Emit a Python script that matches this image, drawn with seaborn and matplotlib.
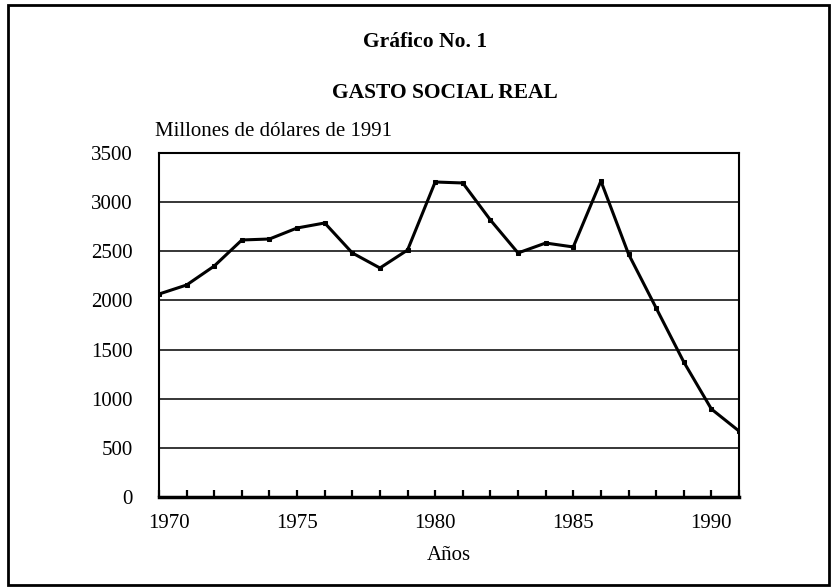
import numpy as np
import pandas as pd
import matplotlib
matplotlib.use("Agg")
import matplotlib.pyplot as plt
import seaborn as sns
from matplotlib.patches import Rectangle
from matplotlib.ticker import FixedLocator
import matplotlib.transforms as mtransforms

years = list(range(1970, 1992))
gasto = [2065, 2157, 2350, 2615, 2625, 2737, 2788, 2483, 2330, 2513, 3205,
         3195, 2818, 2483, 2584, 2544, 3215, 2472, 1923, 1374, 895, 671]
y_ticks = [0, 500, 1000, 1500, 2000, 2500, 3000, 3500]
x_ticks = [1970, 1975, 1980, 1985, 1990]

title1 = "Gráfico No. 1"
title2 = "GASTO SOCIAL REAL"
units = "Millones de dólares de 1991"
xlabel = "Años"

sns.set_style("white")
plt.rcParams['font.family'] = ['Liberation Serif', 'DejaVu Serif']
plt.rcParams['text.color'] = 'black'
plt.rcParams['xtick.color'] = 'black'
plt.rcParams['ytick.color'] = 'black'
plt.rcParams['xtick.labelcolor'] = 'black'
plt.rcParams['ytick.labelcolor'] = 'black'

W, H = 832, 588
fig = plt.figure(figsize=(W / 100, H / 100), dpi=100)
fig.patch.set_facecolor("white")

def fx(px):
    return px / W

def fy(py):
    return 1 - py / H

ax = fig.add_axes([fx(159), fy(497), fx(739) - fx(159), fy(153) - fy(497)])

df = pd.DataFrame({"year": years, "gasto": gasto})
sns.lineplot(data=df, x="year", y="gasto", ax=ax, color="black", linewidth=2.2,
             marker="s", markersize=3.5, markeredgecolor="black", zorder=3)

ax.set_xlim(1970, 1991)
ax.set_ylim(0, 3500)
ax.set_yticks(y_ticks)
ax.set_yticklabels([str(v) for v in y_ticks])
ax.set_xticks(x_ticks)
ax.set_xticklabels([str(v) for v in x_ticks])
ax.xaxis.set_minor_locator(FixedLocator(years))

for v in y_ticks[1:-1]:
    ax.axhline(v, color="black", linewidth=1.1, zorder=1)

ax.tick_params(axis="y", left=False, length=0, pad=19, labelsize=15,
               colors="black", labelcolor="black")
ax.tick_params(axis="x", which="both", bottom=True, direction="in", length=5,
               width=1.6, pad=12, labelsize=15, colors="black", labelcolor="black")

for side in ["top", "left", "right"]:
    ax.spines[side].set_visible(True)
    ax.spines[side].set_color("black")
    ax.spines[side].set_linewidth(1.5)
ax.spines["bottom"].set_visible(True)
ax.spines["bottom"].set_color("black")
ax.spines["bottom"].set_linewidth(2.5)

ax.set_xlabel("")
ax.set_ylabel("")

# shift the first x label slightly right, as in the reference
lbl = ax.get_xticklabels()[0]
lbl.set_transform(lbl.get_transform() + mtransforms.ScaledTranslation(10 / 100, 0, fig.dpi_scale_trans))

fig.text(fx(425), fy(42), title1, ha="center", va="center", fontsize=15.5,
         fontweight="bold", color="black")
fig.text(fx(445), fy(93), title2, ha="center", va="center", fontsize=15.5,
         fontweight="bold", color="black")
fig.text(fx(155), fy(131), units, ha="left", va="center", fontsize=15, color="black")
fig.text(fx(449), fy(555), xlabel, ha="center", va="center", fontsize=15, color="black")

fig.patches.append(Rectangle((fx(8), fy(585)), fx(829) - fx(8), fy(5) - fy(585),
                             transform=fig.transFigure, fill=False,
                             edgecolor="black", linewidth=2))

fig.savefig("out.png", dpi=100, facecolor="white")
